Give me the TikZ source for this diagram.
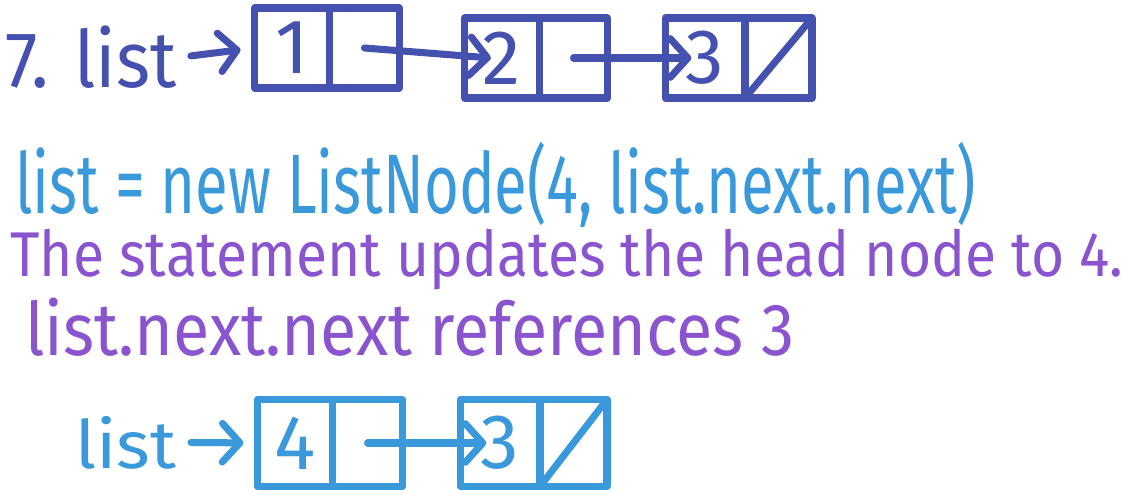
\documentclass[tikz,border=0pt]{standalone}
\usepackage{fontspec}
\setmainfont{Fira Sans}
\usetikzlibrary{positioning,arrows.meta}
\definecolor{inkdark}{HTML}{4451AF}
\definecolor{inklight}{HTML}{3A99DB}
\definecolor{inkpurple}{HTML}{8A54CF}
\tikzset{
  hand/.style={line width=4pt, line cap=round, line join=round},
  cell/.style={draw, hand, rectangle, outer sep=0pt, inner sep=0pt,
    minimum width=1.5cm, minimum height=1.6cm, font=\fontsize{44}{44}\selectfont},
  nextcell/.style={cell, minimum width=1.4cm},
  link/.style={hand, -{Straight Barb[length=10pt,width=22pt,round]}},
  words/.style={anchor=base west, inner sep=0pt, xscale=0.72, font=\fontsize{50}{50}\selectfont},
}
\begin{document}
\begin{tikzpicture}[x=0.02cm, y=-0.02cm]
    \useasboundingbox (0,0) rectangle (1122,493);

    % 第一行：原来的链表
    \node[words, inkdark, xscale=1.28, font=\fontsize{45}{45}\selectfont] (title) at (5,88) {7. list};
    \node[cell, inkdark] (v1) at (292,48) {1};
    \node[nextcell, inkdark, right=0pt of v1] (n1) {};
    \node[cell, inkdark] (v2) at (502,58) {2};
    \node[nextcell, inkdark, right=0pt of v2, minimum width=1.36cm] (n2) {};
    \node[cell, inkdark, minimum width=1.6cm] (v3) at (705,58) {3};
    \node[nextcell, inkdark, right=0pt of v3, minimum width=1.34cm] (n3) {};
    \draw[link, inkdark, shorten <=8pt, shorten >=8pt] (title.east) -- (v1.west);
    \draw[link, inkdark] (n1.center) -- ([xshift=15pt]v2.west);
    \draw[link, inkdark] (n2.center) -- ([xshift=15pt]v3.west);
    \draw[hand, inkdark] (n3.south west) -- (n3.north east);

    % 语句与说明
    \node[words, inklight, xscale=0.985, font=\fontsize{48}{48}\selectfont] (stmt) at (15,214) {list = new ListNode(4, list.next.next)};
    \node[words, inkpurple, xscale=1.25, font=\fontsize{36}{36}\selectfont] (note) at (10,276) {The statement updates the head node to 4.};
    \node[words, inkpurple, xscale=1.25, font=\fontsize{42}{42}\selectfont] (refs) at (25,355) {list.next.next references 3};

    % 第二行：新的链表
    \node[words, inklight, xscale=1.5, font=\fontsize{38}{38}\selectfont] (head) at (75,468) {list};
    \node[cell, inklight, minimum height=1.74cm] (v4) at (295,443) {4};
    \node[nextcell, inklight, right=0pt of v4, minimum height=1.74cm] (n4) {};
    \node[cell, inklight, minimum width=1.6cm, minimum height=1.74cm] (v5) at (500,443) {3};
    \node[nextcell, inklight, right=0pt of v5, minimum width=1.34cm, minimum height=1.74cm] (n5) {};
    \draw[link, inklight, shorten <=8pt, shorten >=8pt] (head.east) -- (v4.west);
    \draw[link, inklight] (n4.center) -- ([xshift=15pt]v5.west);
    \draw[hand, inklight] (n5.south west) -- (n5.north east);
\end{tikzpicture}
\end{document}
